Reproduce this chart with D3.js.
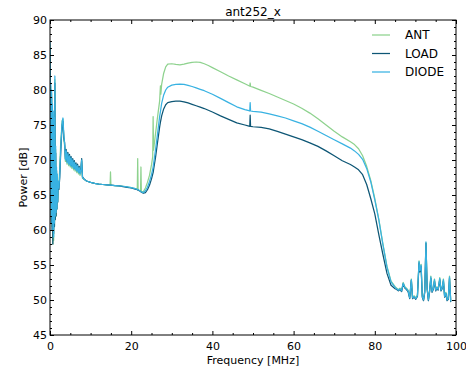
<!DOCTYPE html>
<html>
<head>
<meta charset="utf-8">
<script src="https://cdn.jsdelivr.net/npm/d3@7"></script>
<style>
  html, body { margin: 0; padding: 0; background: #fff; }
  svg { display: block; }
  text { font-family: "DejaVu Sans", sans-serif; fill: #000; }
</style>
</head>
<body>
<svg id="chart" width="466" height="370"></svg>
<script>
// ---------------- DATA ----------------
const title = "ant252_x";
const xLabel = "Frequency [MHz]";
const yLabel = "Power [dB]";
const seriesNames = ["ANT", "LOAD", "DIODE"];
const seriesColors = ["#8ed28e", "#0d5675", "#38b2e2"];
const xTicks = [0, 20, 40, 60, 80, 100];
const yTicks = [45, 50, 55, 60, 65, 70, 75, 80, 85, 90];

const freq = [
  0,0.1,0.2,0.3,0.4,0.5,0.6,0.7,0.8,0.9,1.0,1.1,1.2,1.3,1.4,1.5,1.6,1.7,1.8,1.9,2.0,
  2.2,2.4,2.6,2.8,3.0,3.2,3.4,3.6,3.8,4.0,4.2,4.4,4.6,4.8,5.0,5.2,5.4,5.6,5.8,6.0,6.2,6.4,6.6,6.8,7.0,7.2,7.4,7.6,7.8,8.0,
  8.5,9,10,11,12,13,14,14.8,14.9,15.0,16,17,18,19,20,21,21.5,21.6,21.7,22,22.3,22.4,22.5,
  23,23.5,24,24.5,25,25.3,25.4,25.5,26,26.5,27,27.2,27.3,27.5,28,28.5,29,
  30,31,32,33,34,35,36,37,38,39,40,42,44,46,48,49,49.2,49.3,49.4,
  50,52,54,56,58,60,62,64,66,68,70,72,74,75,76,77,78,79,80,81,82,83,84,
  85,85.4,85.8,86.2,86.6,87.0,87.4,87.8,88.2,88.6,89.0,89.3,89.7,90.1,90.5,90.9,91.1,91.4,91.7,92.0,
  92.3,92.6,92.9,93.2,93.5,93.8,94.1,94.4,94.7,95.0,95.3,95.6,96.0,96.3,96.6,96.9,97.2,97.5,97.8,98.1,98.4,98.7
];

const ant = [
  86.5,64.5,80.5,61.5,79.5,60.5,77.5,58,76.5,58.5,75.5,60.5,81.5,61.5,71.5,62,68.5,63,67.5,64,66.5,
  66.5,69,72,73.8,75.6,75.8,73.0,72.0,69.8,71.0,69.4,70.6,69.2,70.3,69.0,70.0,68.8,69.8,68.6,69.5,68.4,69.2,68.2,69.0,68.0,68.7,67.8,68.4,69.8,67.4,
  67.2,67.0,66.8,66.65,66.55,66.5,66.45,66.4,68.3,66.4,66.35,66.3,66.25,66.15,66.05,65.9,65.8,70.2,65.75,65.65,65.55,69.0,65.5,
  65.5,66.0,66.8,67.8,69.3,70.5,76.2,71.4,73.8,76.2,78.4,80.6,79.4,80.8,82.4,83.3,83.7,
  83.75,83.65,83.6,83.7,83.85,83.95,84.0,83.95,83.75,83.5,83.2,82.6,82.0,81.45,80.9,80.6,80.55,81.0,80.5,
  80.4,79.95,79.5,79.0,78.5,78.0,77.4,76.7,75.9,75.0,74.1,73.3,72.6,72.2,71.6,70.6,69.1,67.1,64.5,61.5,58.0,54.8,52.7,
  51.9,51.7,51.5,51.7,51.4,52.5,51.9,51.7,51.4,50.4,53.0,50.4,50.6,50.3,50.7,55.6,54.3,55.1,50.6,50.1,
  51.3,58.2,51.7,50.1,51.4,53.4,51.3,51.7,53.0,51.5,51.9,51.6,53.2,51.5,51.8,53.0,50.6,51.1,50.1,50.3,53.4,49.9
];

const load = [
  86,64,80,61,79,60,77,58,76,59.5,75,60.5,81,61.5,71,62,68.5,63,67.5,64,66.5,
  65.8,67.5,70.5,73,75,75.5,73.2,72.5,70.2,71.5,69.8,71.1,69.6,70.8,69.4,70.5,69.2,70.2,69.0,69.9,68.8,69.6,68.6,69.4,68.4,69.1,68.2,68.7,70.2,67.6,
  67.2,67.0,66.8,66.65,66.55,66.5,66.45,66.4,66.4,66.4,66.35,66.3,66.2,66.1,66.0,65.85,65.75,65.7,65.7,65.6,65.5,65.45,65.4,
  65.25,65.35,65.75,66.4,67.3,68.0,68.2,68.6,70.4,72.6,74.7,75.4,75.7,76.3,77.3,77.9,78.2,
  78.35,78.4,78.4,78.3,78.15,77.95,77.75,77.55,77.35,77.1,76.85,76.3,75.8,75.3,75.0,74.85,74.8,76.4,74.8,
  74.75,74.65,74.45,74.1,73.7,73.3,72.9,72.45,71.95,71.3,70.6,69.9,69.35,69.0,68.6,67.9,66.5,64.5,62.3,59.3,56.5,53.8,52.1,
  51.6,51.5,51.3,51.5,51.2,52.3,51.7,51.5,51.2,50.2,52.8,50.2,50.4,50.1,50.5,55.3,54.0,54.8,50.4,49.9,
  51.1,58.1,51.5,49.9,51.2,53.1,51.1,51.5,52.7,51.3,51.7,51.4,52.9,51.3,51.6,52.7,50.4,50.9,49.9,50.1,53.1,49.7
];

const diode = [
  87,65,81,62,80,61,78,60,77,59,76,61,82,62,72,62.5,69,63,68,64,67,
  66,68,71,73.5,75.5,76,73.5,72.3,70.0,71.3,69.6,70.9,69.4,70.6,69.2,70.3,69.0,70.0,68.8,69.7,68.6,69.4,68.4,69.2,68.2,68.9,68.0,68.5,70.0,67.5,
  67.2,67.0,66.8,66.65,66.55,66.5,66.45,66.4,66.4,66.4,66.35,66.3,66.25,66.15,66.05,65.9,65.8,65.8,65.75,65.65,65.55,65.5,65.45,
  65.35,65.6,66.1,66.9,67.9,68.7,69.0,69.4,71.5,73.8,76.2,76.9,77.3,78.1,79.3,80.0,80.4,
  80.7,80.8,80.85,80.8,80.65,80.5,80.3,80.1,79.9,79.65,79.4,78.8,78.2,77.6,77.2,77.05,77.0,78.2,77.0,
  76.95,76.85,76.6,76.3,76.0,75.6,75.2,74.7,74.1,73.5,72.9,72.3,71.7,71.3,70.8,70.1,68.8,66.9,64.3,61.4,57.9,54.7,52.6,
  51.8,51.6,51.4,51.6,51.3,52.4,51.8,51.6,51.3,50.3,52.9,50.3,50.5,50.2,50.6,55.5,54.2,55.0,50.5,50.0,
  51.2,58.3,51.6,50.0,51.3,53.3,51.2,51.6,52.9,51.4,51.8,51.5,53.1,51.4,51.7,52.9,50.5,51.0,50.0,50.2,53.3,49.8
];

// ---------------- CHART ----------------
const svg = d3.select("#chart");
const L = 50, R = 456, T = 20, B = 335;
const x = d3.scaleLinear().domain([0, 100]).range([L, R]);
const y = d3.scaleLinear().domain([45, 90]).range([B, T]);

svg.append("defs").append("clipPath").attr("id", "clip")
  .append("rect").attr("x", L).attr("y", T).attr("width", R - L).attr("height", B - T);

const seriesData = [ant, load, diode];
const line = d3.line()
  .x(d => x(d[0]))
  .y(d => y(d[1]));

const plot = svg.append("g").attr("clip-path", "url(#clip)");
seriesData.forEach((vals, k) => {
  const n = Math.min(freq.length, vals.length);
  const pts = [];
  for (let i = 0; i < n; i++) pts.push([freq[i], vals[i]]);
  plot.append("path")
    .datum(pts)
    .attr("fill", "none")
    .attr("stroke", seriesColors[k])
    .attr("stroke-width", 1.25)
    .attr("stroke-linejoin", "round")
    .attr("d", line);
});

// minor tick values
const xMinor = d3.range(0, 101, 5).filter(v => v % 20 !== 0);
const yMinor = d3.range(45, 91, 1).filter(v => v % 5 !== 0);

function styleAxis(g) {
  g.select(".domain").remove();
  g.selectAll("line").attr("stroke", "#000").attr("stroke-width", 1);
  g.selectAll("text").attr("font-size", "11px").attr("fill", "#000")
    .attr("font-family", "DejaVu Sans, sans-serif");
}

// bottom
svg.append("g").attr("transform", `translate(0,${B})`)
  .call(d3.axisBottom(x).tickValues(xTicks).tickSize(-4).tickPadding(7).tickFormat(d3.format("d")))
  .call(styleAxis);
svg.append("g").attr("transform", `translate(0,${B})`)
  .call(d3.axisBottom(x).tickValues(xMinor).tickSize(-2).tickFormat(""))
  .call(styleAxis);
// top
svg.append("g").attr("transform", `translate(0,${T})`)
  .call(d3.axisTop(x).tickValues(xTicks).tickSize(-4).tickFormat(""))
  .call(styleAxis);
svg.append("g").attr("transform", `translate(0,${T})`)
  .call(d3.axisTop(x).tickValues(xMinor).tickSize(-2).tickFormat(""))
  .call(styleAxis);
// left
svg.append("g").attr("transform", `translate(${L},0)`)
  .call(d3.axisLeft(y).tickValues(yTicks).tickSize(-4).tickPadding(3).tickFormat(d3.format("d")))
  .call(styleAxis);
svg.append("g").attr("transform", `translate(${L},0)`)
  .call(d3.axisLeft(y).tickValues(yMinor).tickSize(-2).tickFormat(""))
  .call(styleAxis);
// right
svg.append("g").attr("transform", `translate(${R},0)`)
  .call(d3.axisRight(y).tickValues(yTicks).tickSize(-4).tickFormat(""))
  .call(styleAxis);
svg.append("g").attr("transform", `translate(${R},0)`)
  .call(d3.axisRight(y).tickValues(yMinor).tickSize(-2).tickFormat(""))
  .call(styleAxis);

// frame
svg.append("rect")
  .attr("x", L).attr("y", T).attr("width", R - L).attr("height", B - T)
  .attr("fill", "none").attr("stroke", "#000").attr("stroke-width", 1);

// title and labels
svg.append("text").attr("x", (L + R) / 2).attr("y", 16)
  .attr("text-anchor", "middle").attr("font-size", "12px").text(title);
svg.append("text").attr("x", (L + R) / 2).attr("y", 364)
  .attr("text-anchor", "middle").attr("font-size", "11px").text(xLabel);
svg.append("text").attr("transform", `translate(27,${(T + B) / 2}) rotate(-90)`)
  .attr("text-anchor", "middle").attr("font-size", "11px").text(yLabel);

// legend
const legY = [35, 53.5, 72];
const leg = svg.append("g");
seriesNames.forEach((name, k) => {
  leg.append("line")
    .attr("x1", 372).attr("x2", 390).attr("y1", legY[k]).attr("y2", legY[k])
    .attr("stroke", seriesColors[k]).attr("stroke-width", 1.25);
  leg.append("text")
    .attr("x", 405).attr("y", legY[k]).attr("dy", "0.36em")
    .attr("font-size", "12px").text(name);
});
</script>
</body>
</html>
